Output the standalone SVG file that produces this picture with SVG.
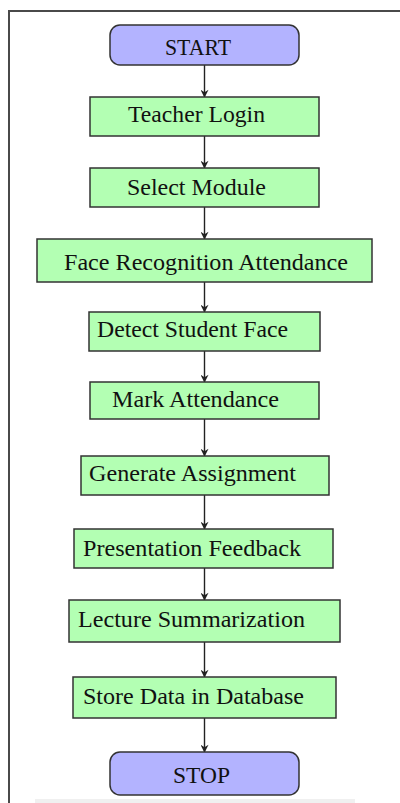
<svg xmlns="http://www.w3.org/2000/svg" width="400" height="803" viewBox="0 0 400 803">
<defs>
<style>
.box{fill:#b3ffb3;stroke:#333;stroke-width:1.5}
.term{fill:#b3b3ff;stroke:#333;stroke-width:1.5}
.t{font-family:"Liberation Serif","Times New Roman",serif;font-size:24px;fill:#111}
.c{stroke:#222;stroke-width:1.4;fill:none;marker-end:url(#ah)}
</style>
<marker id="ah" viewBox="0 0 10 10" refX="9" refY="5" markerWidth="9" markerHeight="8" markerUnits="userSpaceOnUse" orient="auto">
<path d="M0,0 L10,5 L0,10 L3,5 Z" fill="#222"/>
</marker>
</defs>
<rect width="400" height="803" fill="#fff"/>
<path d="M9,803 V11 H400" fill="none" stroke="#4a4a4a" stroke-width="2"/>
<rect x="35" y="799" width="320" height="4" fill="#f0f0f0"/>
<g id="connectors">
<line class="c" x1="204.5" y1="65" x2="204.5" y2="97"/>
<line class="c" x1="204.5" y1="136" x2="204.5" y2="168"/>
<line class="c" x1="204.5" y1="207" x2="204.5" y2="239"/>
<line class="c" x1="204.5" y1="282" x2="204.5" y2="312"/>
<line class="c" x1="204.5" y1="351" x2="204.5" y2="382"/>
<line class="c" x1="204.5" y1="419" x2="204.5" y2="456"/>
<line class="c" x1="204.5" y1="495" x2="204.5" y2="529"/>
<line class="c" x1="204.5" y1="568" x2="204.5" y2="600"/>
<line class="c" x1="204.5" y1="642" x2="204.5" y2="677"/>
<line class="c" x1="204.5" y1="718" x2="204.5" y2="752"/>
</g>
<g id="start"><rect class="term" x="110" y="25" width="189" height="40" rx="10"/><text class="t" x="165" y="55" textLength="66" lengthAdjust="spacingAndGlyphs">START</text></g>
<g id="teacher-login"><rect class="box" x="90" y="97" width="229" height="39"/><text class="t" x="128" y="122" textLength="137" lengthAdjust="spacingAndGlyphs">Teacher Login</text></g>
<g id="select-module"><rect class="box" x="90" y="168" width="229" height="39"/><text class="t" x="127" y="195" textLength="139" lengthAdjust="spacingAndGlyphs">Select Module</text></g>
<g id="face-recognition"><rect class="box" x="37" y="239" width="335" height="43"/><text class="t" x="64" y="270" textLength="284" lengthAdjust="spacingAndGlyphs">Face Recognition Attendance</text></g>
<g id="detect-face"><rect class="box" x="89" y="312" width="231" height="39"/><text class="t" x="97" y="337" textLength="191" lengthAdjust="spacingAndGlyphs">Detect Student Face</text></g>
<g id="mark-attendance"><rect class="box" x="90" y="382" width="229" height="37"/><text class="t" x="112" y="407" textLength="167" lengthAdjust="spacingAndGlyphs">Mark Attendance</text></g>
<g id="generate-assignment"><rect class="box" x="81" y="456" width="248" height="39"/><text class="t" x="89" y="481" textLength="207" lengthAdjust="spacingAndGlyphs">Generate Assignment</text></g>
<g id="presentation-feedback"><rect class="box" x="74" y="529" width="259" height="39"/><text class="t" x="83" y="556" textLength="218" lengthAdjust="spacingAndGlyphs">Presentation Feedback</text></g>
<g id="lecture-summarization"><rect class="box" x="69" y="600" width="271" height="42"/><text class="t" x="78" y="627" textLength="227" lengthAdjust="spacingAndGlyphs">Lecture Summarization</text></g>
<g id="store-data"><rect class="box" x="73" y="677" width="263" height="41"/><text class="t" x="83" y="704" textLength="221" lengthAdjust="spacingAndGlyphs">Store Data in Database</text></g>
<g id="stop"><rect class="term" x="110" y="752" width="189" height="43" rx="10"/><text class="t" x="173" y="783" textLength="57" lengthAdjust="spacingAndGlyphs">STOP</text></g>
</svg>
